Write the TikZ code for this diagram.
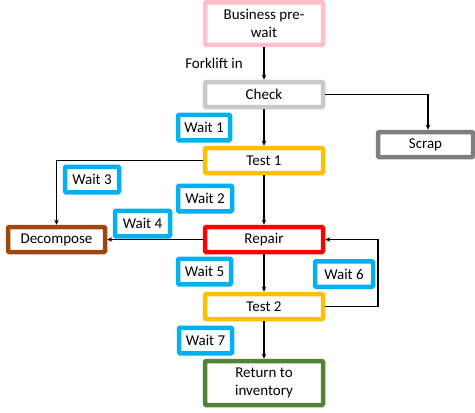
\documentclass[tikz,border=0pt]{standalone}
\usepackage{fontspec}
\setmainfont{Carlito}
\usetikzlibrary{arrows.meta,calc}
\definecolor{cpink}{HTML}{FFC0CB}
\definecolor{cgraylt}{HTML}{C9C9C9}
\definecolor{cgraydk}{HTML}{7F7F7F}
\definecolor{corange}{HTML}{FFC000}
\definecolor{cred}{HTML}{FF0000}
\definecolor{cbrown}{HTML}{9E480E}
\definecolor{cgreen}{HTML}{548235}
\definecolor{cblue}{HTML}{00B0F0}
\begin{document}
\begin{tikzpicture}[x=1pt,y=-1pt,
  every node/.style={font=\fontsize{15}{18}\selectfont, inner sep=0pt},
  box/.style={draw, line width=4.5pt, fill=white, minimum width=118pt, minimum height=25pt, align=center, rounded corners=1pt},
  waitbox/.style={draw=cblue, line width=4.5pt, fill=white, minimum height=25.5pt, rounded corners=1pt},
  conn/.style={line width=1.3pt, -{Stealth[length=5pt,width=4.5pt]}}
]
\useasboundingbox (0,0) rectangle (475,413);
\node[box, draw=cpink, minimum height=42.7pt] (biz) at (264,23.6) {Business pre-\\wait};
\node[box, draw=cgraylt] (check) at (264,94.5) {Check};
\node[box, draw=cgraydk, minimum width=95pt] (scrap) at (425.5,144.5) {Scrap};
\node[box, draw=corange] (test1) at (264,160.5) {Test 1};
\node[box, draw=cred] (repair) at (264,239.5) {Repair};
\node[box, draw=cbrown, minimum width=97pt] (decomp) at (56.5,239.5) {Decompose};
\node[box, draw=corange] (test2) at (264,306.5) {Test 2};
\node[box, draw=cgreen, minimum height=44pt] (ret) at (264,383) {Return to\\inventory};

\node (fork) at (214,63) {Forklift in};

\node[waitbox, minimum width=52pt] (w1) at (204,127.5) {Wait 1};
\node[waitbox, minimum width=54pt] (w2) at (205,198.5) {Wait 2};
\node[waitbox, minimum width=54pt] (w3) at (92,179.5) {Wait 3};
\node[waitbox, minimum width=55pt] (w4) at (142.5,223.5) {Wait 4};
\node[waitbox, minimum width=53pt] (w5) at (204.5,271.5) {Wait 5};
\node[waitbox, minimum width=58pt] (w6) at (344,274) {Wait 6};
\node[waitbox, minimum width=53pt] (w7) at (205.5,340.5) {Wait 7};

\coordinate (scrapin) at ($(scrap.north)+(2.5,0)$);
\coordinate (loop) at (378,306.5);

\draw[conn] (biz) -- (check);
\draw[conn] (check) -- (test1);
\draw[conn] (check.east) -| (scrapin);
\draw[conn] (test1) -- (repair);
\draw[conn] (test1.west) -| (decomp.north);
\draw[conn] (repair.west) -- (decomp.east);
\draw[conn] (repair) -- (test2);
\draw[conn] (test2.east) -- (loop) |- (repair.east);
\draw[conn] (test2) -- (ret);
\end{tikzpicture}
\end{document}
